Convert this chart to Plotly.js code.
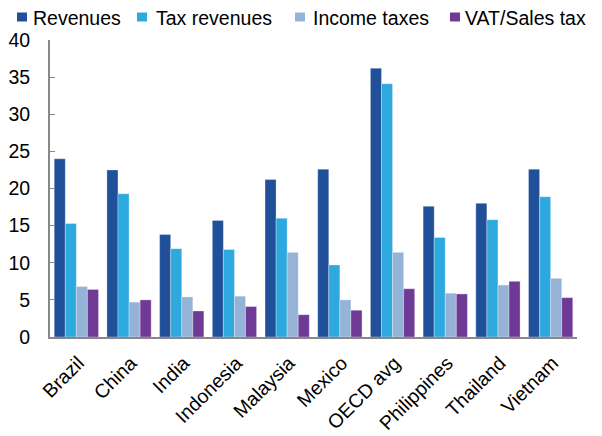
<!DOCTYPE html>
<html>
<head>
<meta charset="utf-8">
<script src="https://cdn.plot.ly/plotly-3.0.1.min.js"></script>
<style>html,body{margin:0;padding:0;background:#fff;}#chart{width:602px;height:436px;}</style>
</head>
<body>
<div id="chart"></div>
<script>
const categories = ["Brazil","China","India","Indonesia","Malaysia","Mexico","OECD avg","Philippines","Thailand","Vietnam"];
const revenues = [24.0, 22.5, 13.8, 15.7, 21.2, 22.6, 36.2, 17.6, 18.0, 22.6];
const taxRevenues = [15.3, 19.3, 11.9, 11.8, 16.0, 9.7, 34.1, 13.4, 15.8, 18.9];
const incomeTaxes = [6.8, 4.7, 5.4, 5.5, 11.4, 5.0, 11.4, 5.9, 7.0, 7.9];
const vatSalesTax = [6.4, 5.0, 3.5, 4.1, 3.0, 3.6, 6.5, 5.8, 7.5, 5.3];
const tickValsY = [0,5,10,15,20,25,30,35,40];

const seriesNames = ["Revenues","Tax revenues","Income taxes","VAT/Sales tax"];
const seriesVals = [revenues, taxRevenues, incomeTaxes, vatSalesTax];
const colors = ["#21509A","#2EA9DF","#95B3D7","#6E3A96"];

const traces = seriesVals.map((v,i)=>({
  type:"bar", name:seriesNames[i], x:categories, y:v, showlegend:false,
  marker:{color:colors[i], line:{color:"rgba(255,255,255,0.6)", width:0.5}}
}));

// Plot-area geometry (pixels) used to place the custom legend
const M = {l:50, r:25, t:40, b:99};
const W = 602, H = 436;
const pw = W - M.l - M.r, ph = H - M.t - M.b;
const px2x = px => (px - M.l) / pw;
const py2y = py => (H - M.b - py) / ph;

const legSquareX = [17, 137, 295, 450];
const legTextX = [32, 155, 312, 464];
const shapes = [], annotations = [];
const fam = "Liberation Sans, Arial, sans-serif";
const tickFont = {family:fam, size:19.5, color:"#000"};
const xTickFont = {family:fam, size:19.5, color:"#000"};
const legFont = {family:fam, size:19.5, color:"#000"};
seriesNames.forEach((n,i)=>{
  shapes.push({type:"rect", xref:"paper", yref:"paper",
    x0:px2x(legSquareX[i]), x1:px2x(legSquareX[i]+10),
    y0:py2y(21.5), y1:py2y(12.5),
    fillcolor:colors[i], line:{width:0}});
  annotations.push({xref:"paper", yref:"paper", x:px2x(legTextX[i]), y:py2y(17.5),
    xanchor:"left", yanchor:"middle", text:n, showarrow:false, font:legFont, borderpad:0});
});

const layout = {
  width:W, height:H,
  margin:{l:M.l, r:M.r, t:M.t, b:M.b, autoexpand:false},
  barmode:"group", bargap:0.16, bargroupgap:0,
  paper_bgcolor:"#fff", plot_bgcolor:"#fff",
  font:tickFont,
  showlegend:false,
  shapes:shapes, annotations:annotations,
  xaxis:{showline:true, linecolor:"#888", linewidth:2, ticks:"", tickangle:-45, showgrid:false, tickfont:xTickFont, ticklabelshift:2, ticklabelstandoff:5},
  yaxis:{range:[0,40], tickvals:tickValsY, showline:true, linecolor:"#888", linewidth:2, ticks:"inside", ticklen:5, tickcolor:"#888", tickwidth:1, showgrid:false, zeroline:false, tickfont:tickFont, ticklabelstandoff:14}
};
Plotly.newPlot("chart", traces, layout, {displayModeBar:false, staticPlot:true});
</script>
</body>
</html>
